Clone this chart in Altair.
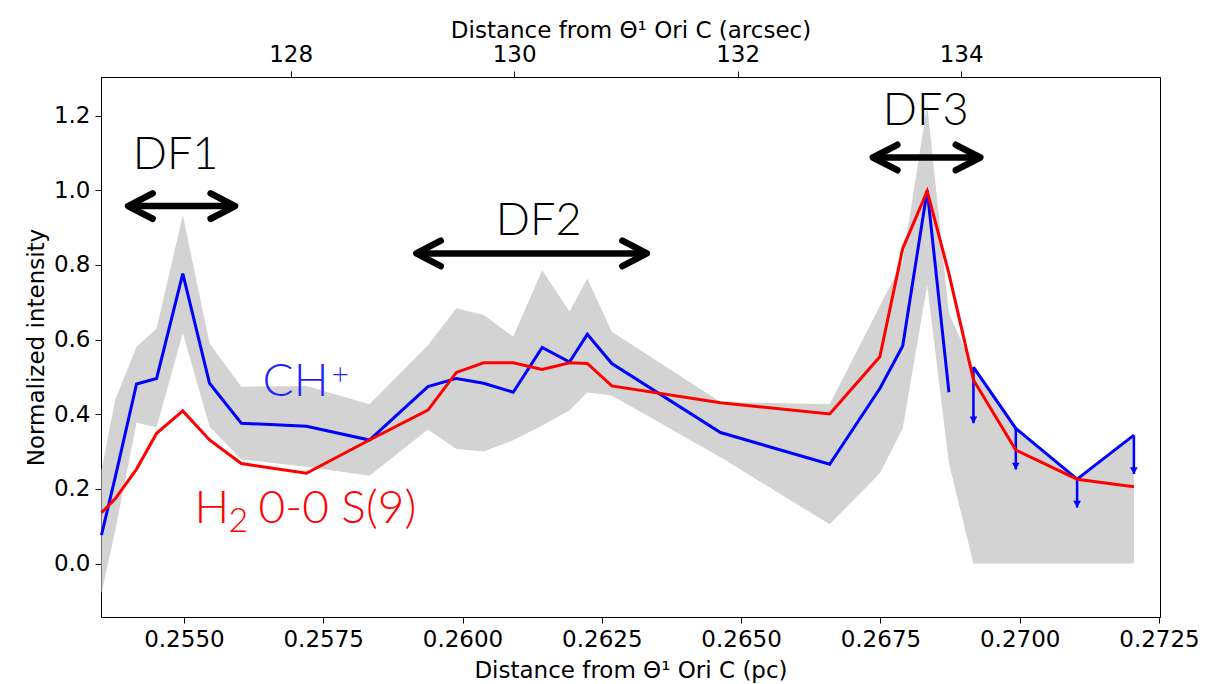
import altair as alt
import pandas as pd

# ---------------- data ----------------
pc = [0.25352, 0.25377, 0.25415, 0.25451, 0.25498, 0.25546, 0.25603, 0.25720,
      0.25833, 0.25938, 0.25989, 0.26038, 0.26091, 0.26143, 0.26192, 0.26224,
      0.26268, 0.26463, 0.26659, 0.26749, 0.26790, 0.26834, 0.26873, 0.26917,
      0.26993, 0.27103, 0.27205]
ch_plus = [0.076, 0.233, 0.481, 0.496, 0.777, 0.483, 0.376, 0.368, 0.331, 0.474,
           0.496, 0.483, 0.459, 0.579, 0.540, 0.614, 0.536, 0.351, 0.266, 0.469,
           0.583, 1.000, 0.459, 0.526, 0.362, 0.226, 0.344]
h2 = [0.136, 0.174, 0.253, 0.349, 0.409, 0.331, 0.268, 0.242, 0.331, 0.411,
      0.512, 0.538, 0.538, 0.520, 0.538, 0.536, 0.476, 0.431, 0.401, 0.554,
      0.844, 0.998, 0.777, 0.492, 0.304, 0.226, 0.206]
band_hi = [0.25, 0.44, 0.581, 0.63, 0.934, 0.59, 0.474, 0.476, 0.427, 0.585,
           0.684, 0.666, 0.608, 0.786, 0.675, 0.764, 0.621, 0.433, 0.427, 0.69,
           0.81, 1.23, 0.67, 0.526, 0.362, 0.226, 0.344]
band_lo = [-0.08, 0.09, 0.377, 0.365, 0.617, 0.367, 0.279, 0.259, 0.235, 0.359,
           0.307, 0.30, 0.33, 0.37, 0.41, 0.458, 0.45, 0.285, 0.105, 0.242,
           0.362, 0.746, 0.268, 0.0, 0.0, 0.0, 0.0]
ch_segment = [0] * 23 + [1] * 4          # detections / upper limits

ul_pc = pc[23:]
ul_top = ch_plus[23:]
ul_end = [0.376, 0.252, 0.150, 0.240]

pc_ticks = [0.2550, 0.2575, 0.2600, 0.2625, 0.2650, 0.2675, 0.2700, 0.2725]
arcsec_ticks = [128, 130, 132, 134]
y_ticks = [0.0, 0.2, 0.4, 0.6, 0.8, 1.0, 1.2]

df_names = ["DF1", "DF2", "DF3"]
df_text_x = [0.254851, 0.261366, 0.268312]
df_text_y = [1.057, 0.880, 1.175]
df_arrow_x1 = [0.253999, 0.259171, 0.267365]
df_arrow_x2 = [0.255919, 0.263309, 0.269293]
df_arrow_y = [0.958, 0.831, 1.088]

# species labels: anchor (left, baseline) in data units
ch_label_x, ch_label_y = 0.256412, 0.449
h2_label_x, h2_label_y = 0.255190, 0.108

# ---------------- tables ----------------
main = pd.DataFrame({"pc": pc, "ch": ch_plus, "h2": h2, "hi": band_hi,
                     "lo": band_lo, "seg": ch_segment})
ul = pd.DataFrame({"pc": ul_pc, "top": ul_top, "end": ul_end,
                   "head": [e + 0.009 for e in ul_end]})
arrows = pd.DataFrame({"x1": df_arrow_x1, "x2": df_arrow_x2, "y": df_arrow_y})
dflab = pd.DataFrame({"name": df_names, "x": df_text_x, "y": df_text_y})
chlab = pd.DataFrame({"x": [ch_label_x], "y": [ch_label_y]})
h2lab = pd.DataFrame({"x": [h2_label_x], "y": [h2_label_y]})
arc = pd.DataFrame({"a": arcsec_ticks})

FONT = "DejaVu Sans"
xs = alt.Scale(domain=[0.253512, 0.272518], nice=False, zero=False)
ys = alt.Scale(domain=[-0.1433, 1.3037], nice=False, zero=False)

x_axis = alt.Axis(values=pc_ticks, format=".4f", title="Distance from \u0398\u00b9 Ori C (pc)",
                  labelPadding=5, titlePadding=8)
y_axis = alt.Axis(values=y_ticks, format=".1f", title="Normalized intensity",
                  labelPadding=5, titlePadding=5)


def X(f):
    return alt.X(f, type="quantitative", scale=xs, axis=x_axis)


def Y(f):
    return alt.Y(f, type="quantitative", scale=ys, axis=y_axis)


band = alt.Chart(main).mark_area(color="#d3d3d3", opacity=1).encode(
    x=X("pc"), y=Y("hi"), y2="lo")

blue = alt.Chart(main).mark_line(color="#0000ff", strokeWidth=3).encode(
    x=X("pc"), y=Y("ch"), detail="seg:N")

ul_rule = alt.Chart(ul).mark_rule(color="#0000ff", strokeWidth=2.5).encode(
    x=X("pc"), y=Y("top"), y2="end")
ul_head = alt.Chart(ul).mark_point(shape="triangle-down", filled=True, size=60,
                                   color="#0000ff", opacity=1).encode(
    x=X("pc"), y=Y("head"))

red = alt.Chart(main).mark_line(color="#ff0000", strokeWidth=3).encode(
    x=X("pc"), y=Y("h2"))

shaft = alt.Chart(arrows).mark_rule(color="black", strokeWidth=6.5).encode(
    x=X("x1"), x2="x2", y=Y("y"))
head_l = alt.Chart(arrows).mark_point(shape="M1,-0.52L0,0L1,0.52", filled=False,
                                      size=2400, color="black", strokeWidth=6.5,
                                      strokeCap="round", strokeJoin="round",
                                      opacity=1).encode(x=X("x1"), y=Y("y"))
head_r = alt.Chart(arrows).mark_point(shape="M-1,-0.52L0,0L-1,0.52", filled=False,
                                      size=2400, color="black", strokeWidth=6.5,
                                      strokeCap="round", strokeJoin="round",
                                      opacity=1).encode(x=X("x2"), y=Y("y"))

df_text = alt.Chart(dflab).mark_text(font="Lato", fontSize=45, fontWeight=300,
                                     align="center", baseline="alphabetic",
                                     color="black").encode(
    x=X("x"), y=Y("y"), text="name:N")

LBL = dict(font="Lato", fontWeight=300, align="left", baseline="alphabetic")
ch_main = alt.Chart(chlab).mark_text(text="CH", fontSize=46, color="#1f1fff", **LBL).encode(
    x=X("x"), y=Y("y"))
ch_sup = alt.Chart(chlab).mark_text(text="+", fontSize=30, dx=69, dy=-11,
                                    color="#1f1fff", **LBL).encode(x=X("x"), y=Y("y"))
h2_main = alt.Chart(h2lab).mark_text(text="H", fontSize=46, color="#ff0000", **LBL).encode(
    x=X("x"), y=Y("y"))
h2_sub = alt.Chart(h2lab).mark_text(text="2", fontSize=34, dx=34, dy=9,
                                    color="#ff0000", **LBL).encode(x=X("x"), y=Y("y"))
h2_rest = alt.Chart(h2lab).mark_text(text="0-0 S(9)", fontSize=46, dx=64,
                                     color="#ff0000", **LBL).encode(x=X("x"), y=Y("y"))

pc_layer = alt.layer(band, blue, ul_rule, ul_head, red, shaft, head_l, head_r,
                     df_text, ch_main, ch_sup, h2_main, h2_sub, h2_rest)

top_axis = alt.Chart(arc).mark_point(opacity=0).encode(
    x=alt.X("a:Q", scale=alt.Scale(domain=[126.3034, 135.780], nice=False, zero=False),
            axis=alt.Axis(orient="top", values=arcsec_ticks, format="d",
                          title="Distance from \u0398\u00b9 Ori C (arcsec)",
                          labelPadding=5, titlePadding=1)))

chart = alt.layer(pc_layer, top_axis).resolve_scale(x="independent").properties(
    width=1059, height=540,
    autosize=alt.AutoSizeParams(type="none"),
    padding={"left": 101, "top": 77, "right": 57, "bottom": 67},
    background="white",
).configure_view(stroke="black", strokeWidth=1).configure_axis(
    labelFont=FONT, labelFontSize=23, labelColor="black",
    titleFont=FONT, titleFontSize=23, titleFontWeight="normal", titleColor="black",
    domainColor="black", domainWidth=1, tickColor="black", tickWidth=1, tickSize=6,
    grid=False, labelFlush=False, labelOverlap=False,
)

chart.save("out.html", embed_options={"renderer": "svg", "actions": False})
